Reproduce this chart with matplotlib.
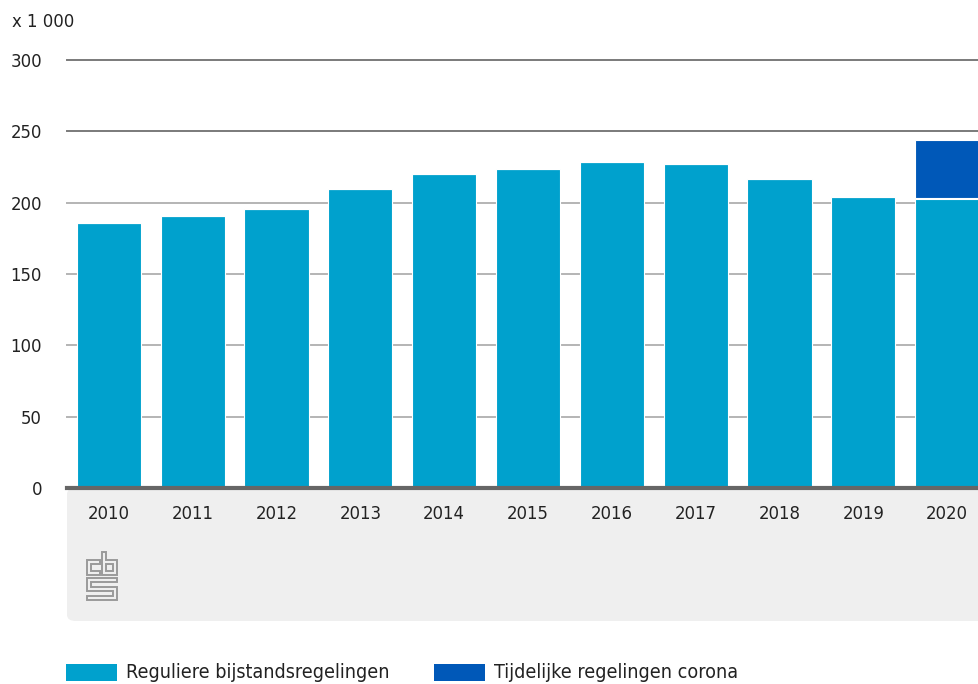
import matplotlib
matplotlib.use("Agg")
import matplotlib.pyplot as plt
from matplotlib.patches import Rectangle, FancyBboxPatch, Polygon

years = ["2010", "2011", "2012", "2013", "2014", "2015", "2016", "2017", "2018", "2019", "2020"]
regulier = [185.5, 190.7, 195.3, 209.6, 220.3, 223.8, 228.5, 227.3, 216.6, 203.8, 202.4]
corona = [0, 0, 0, 0, 0, 0, 0, 0, 0, 0, 40.1]
series_names = ["Reguliere bijstandsregelingen", "Tijdelijke regelingen corona"]
yticks = [0, 50, 100, 150, 200, 250, 300]
unit_label = "x 1 000"

C_REG = "#00a1cd"
C_COR = "#0058b8"
W, H = 979, 684

plt.rcParams["font.family"] = ["DejaVu Sans"]
plt.rcParams["font.stretch"] = "condensed"

fig = plt.figure(figsize=(W / 100, H / 100), dpi=100)

def fx(px):
    return px / W

def fy(py):
    return 1 - py / H

# grey panel under the axis
panel = FancyBboxPatch((fx(67), fy(621)), 1.0, fy(488) - fy(621),
                       boxstyle="round,pad=0,rounding_size=0.009",
                       transform=fig.transFigure, facecolor="#efefef",
                       edgecolor="none", zorder=0)
fig.add_artist(panel)

ax = fig.add_axes([fx(67), fy(488), 922 / W, fy(60) - fy(488)])
ax.set_facecolor("none")
x = list(range(len(years)))

# gridlines
grid_cols = {50: "#b4b4b4", 100: "#b4b4b4", 150: "#b4b4b4", 200: "#b4b4b4",
             250: "#7a7a7a", 300: "#7a7a7a"}
for v, c in grid_cols.items():
    ax.axhline(v, color=c, lw=1.4, zorder=1, clip_on=False)

ax.bar(x, regulier, width=0.765, color=C_REG, edgecolor="white", linewidth=0.8, zorder=2)
bottoms = [r + 1.2 if c > 0 else r for r, c in zip(regulier, corona)]
ax.bar(x, corona, width=0.765, bottom=bottoms, color=C_COR, edgecolor="white",
       linewidth=0.8, zorder=2)
ax.axhline(0, color="#666666", lw=3, zorder=3, clip_on=False)

ax.set_xlim(-0.5, len(years) - 0.5)
ax.set_ylim(0, 300)
ax.set_xticks(x)
ax.set_xticklabels(years, fontsize=13.2, color="#222222")
ax.set_yticks(yticks)
ax.set_yticklabels([str(v) for v in yticks], fontsize=13.2, color="#222222")
ax.tick_params(axis="x", length=0, pad=12)
ax.tick_params(axis="y", length=0, pad=18)
for s in ax.spines.values():
    s.set_visible(False)

fig.text(fx(12), fy(22), unit_label, fontsize=13.2, color="#222222", va="center", ha="left")

# cbs logo (outlined square letters)
logo = "#9a9a9a"
shapes = [
    [(100, 560), (87, 560), (87, 575), (100, 575), (100, 571), (91, 571), (91, 564), (100, 564)],
    [(102, 552), (106, 552), (106, 560), (117, 560), (117, 575), (102, 575)],
    [(106, 564), (113, 564), (113, 571), (106, 571)],
    [(87, 578), (117, 578), (117, 582), (91, 582), (91, 587), (117, 587), (117, 600),
     (87, 600), (87, 596), (113, 596), (113, 591), (87, 591)],
]
for shp in shapes:
    pts = [(fx(p[0]), fy(p[1])) for p in shp]
    fig.add_artist(Polygon(pts, closed=True, fill=False, edgecolor=logo, lw=1.4,
                           transform=fig.transFigure, joinstyle="miter"))

# legend
for name, col, px0 in zip(series_names, [C_REG, C_COR], [66, 434]):
    fig.add_artist(Rectangle((fx(px0), fy(681)), 51 / W, 17 / H, transform=fig.transFigure,
                             facecolor=col, edgecolor="none"))
    fig.text(fx(px0 + 60), fy(672.5), name, fontsize=14.1,
             color="#222222", va="center", ha="left")

fig.savefig("out.png", dpi=100)
